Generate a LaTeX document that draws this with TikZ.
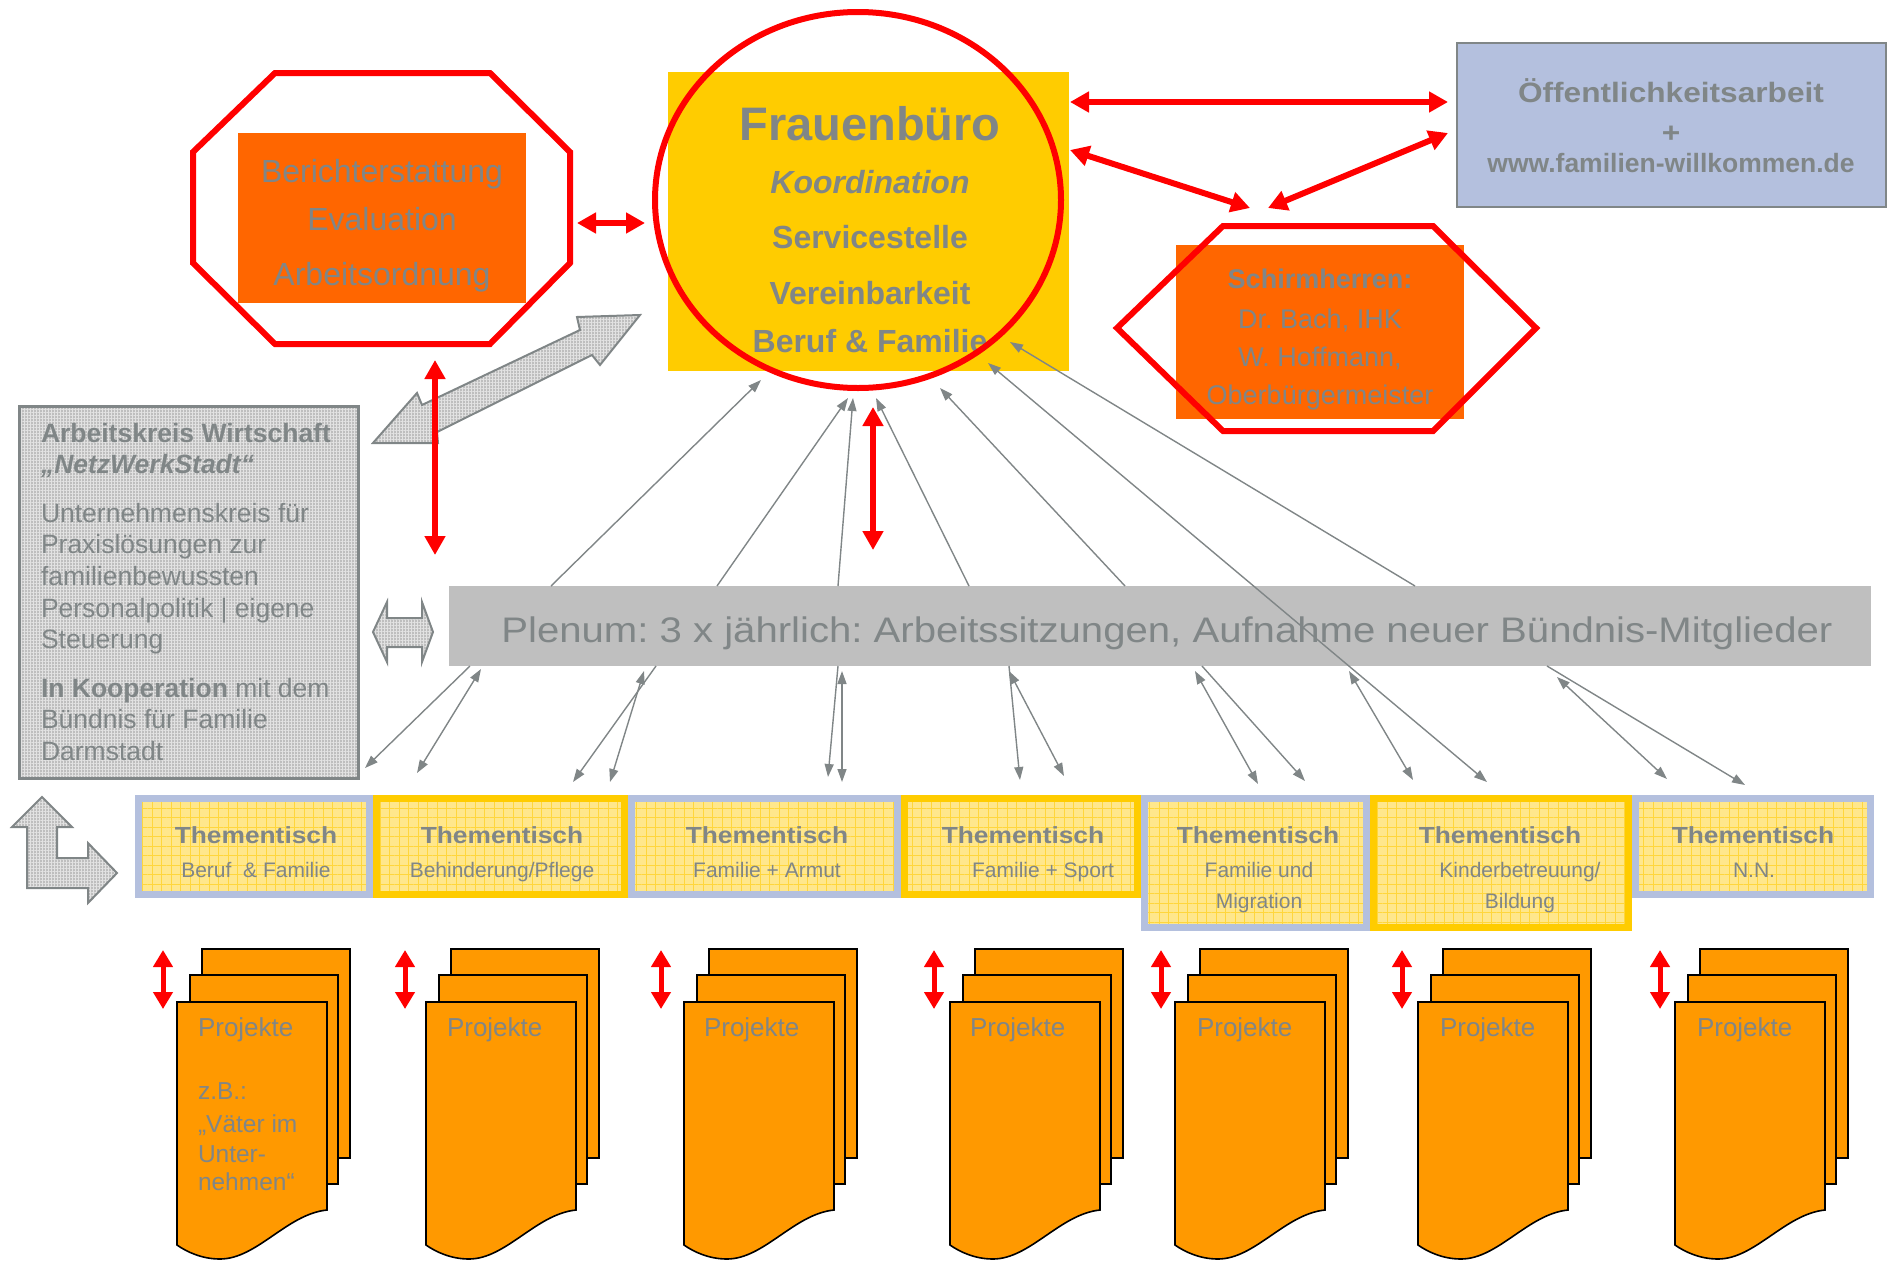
\documentclass[tikz,border=0pt]{standalone}
\usepackage{fontspec}
\setmainfont{Liberation Sans}
\newfontfamily\widefont{Liberation Sans}[FakeStretch=1.13]
\usetikzlibrary{arrows.meta,patterns.meta}
\frenchspacing

\definecolor{txtgrey}{RGB}{128,134,135}
\definecolor{fbgelb}{RGB}{255,204,0}
\definecolor{boxorange}{RGB}{255,102,0}
\definecolor{blattorange}{RGB}{255,153,0}
\definecolor{tischblau}{RGB}{180,192,222}
\definecolor{tischgelb}{RGB}{255,231,140}
\definecolor{tischraster}{RGB}{255,214,60}
\definecolor{plenumgrau}{RGB}{191,191,191}
\definecolor{rastergrau}{RGB}{190,190,190}
\definecolor{rasterhell}{RGB}{226,226,226}

\newcommand{\groesse}[1]{\fontsize{#1}{#1}\selectfont}

\tikzset{
    every node/.style={inner sep=0pt, outer sep=0pt},
    txt/.style={text=txtgrey, anchor=base},
    berline/.style={txt, font=\groesse{32}},
    fbtitle/.style={txt, font=\bfseries\groesse{47}},
    fbline/.style={txt, font=\bfseries\groesse{32}},
    oeline/.style={txt, font=\widefont\bfseries\groesse{28}},
    wwwline/.style={txt, font=\bfseries\groesse{26.5}},
    schline/.style={txt, font=\groesse{27}},
    akline/.style={txt, anchor=base west, font=\groesse{26.5}},
    plline/.style={txt, font=\widefont\groesse{35.5}},
    tischtitle/.style={txt, font=\widefont\bfseries\groesse{23.3}},
    tischsub/.style={txt, font=\groesse{21}},
    projline/.style={txt, anchor=base west, font=\groesse{26}},
    projsmall/.style={txt, anchor=base west, font=\groesse{24.5}},
    orangebox/.style={fill=boxorange},
    raster/.style={preaction={fill=rastergrau},
        pattern={Hatch[distance=3pt,angle=0,line width=.8pt]}, pattern color=rasterhell},
    akbox/.style={draw=txtgrey, line width=3, raster},
    blockarrow/.style={draw=txtgrey, line width=2, line join=miter, raster},
    tisch/.style={draw=#1, line width=7, preaction={fill=tischgelb},
        pattern={Hatch[distance=9.5pt,angle=0,line width=.8pt]}, pattern color=tischraster},
    blatt/.style={draw=black, line width=1.6, fill=blattorange, line join=miter},
    redring/.style={draw=red, line width=6, line join=miter},
    redarrow/.style={draw=red, line width=6,
        {Triangle[length=19pt,width=20pt]}-{Triangle[length=19pt,width=20pt]}},
    smallred/.style={draw=red, line width=5,
        {Triangle[length=17pt,width=19pt]}-{Triangle[length=17pt,width=19pt]}},
    thinpfeil/.style={draw=txtgrey, line width=1.4, -{Triangle[length=13pt,width=9pt]}},
    thinboth/.style={draw=txtgrey, line width=1.4,
        {Triangle[length=13pt,width=9pt]}-{Triangle[length=13pt,width=9pt]}}
}

\begin{document}
\begin{tikzpicture}[x=1pt, y=-1pt]
	\useasboundingbox (0,0) rectangle (1888,1264);

	% Berichterstattung
	\draw[redring] (275,73) -- (490,73) -- (570,152) -- (570,263) -- (490,344)
		-- (275,344) -- (193,263) -- (193,152) -- cycle;
	\node (bericht) [orangebox, minimum width=288, minimum height=170] at (382,218) {};
	\node (ber1) [berline] at (382,182) {Berichterstattung};
	\node (ber2) [berline] at (382,230) {Evaluation};
	\node (ber3) [berline] at (382,285) {Arbeitsordnung};

	% Frauenbuero
	\node (buero) [fill=fbgelb, minimum width=401, minimum height=299] at (868.5,221.5) {};
	\node (fb1) [fbtitle] at (870,140) {Frauenbüro};
	\node (fb2) [fbline, font=\bfseries\itshape\groesse{32}] at (870,193) {Koordination};
	\node (fb3) [fbline] at (870,248) {Servicestelle};
	\node (fb4) [fbline] at (870,304) {Vereinbarkeit};
	\node (fb5) [fbline] at (870,352) {Beruf \& Familie};
	\draw[redring] (858,200) ellipse [x radius=203, y radius=188];

	% Oeffentlichkeitsarbeit
	\node (oeff) [draw=txtgrey, line width=2.5, fill=tischblau, minimum width=429,
		minimum height=164] at (1671.5,125) {};
	\node (oe1) [oeline] at (1671,102) {Öffentlichkeitsarbeit};
	\node (oe2) [oeline] at (1671,142) {+};
	\node (oe3) [wwwline] at (1671,172) {www.familien-willkommen.de};

	% Schirmherren
	\node (schirm) [orangebox, minimum width=288, minimum height=174] at (1320,332) {};
	\node (sh1) [schline, font=\bfseries\groesse{27}] at (1320,288) {Schirmherren:};
	\node (sh2) [schline] at (1320,328) {Dr. Bach, IHK};
	\node (sh3) [schline] at (1320,366) {W. Hoffmann,};
	\node (sh4) [schline] at (1320,404) {Oberbürgermeister};
	\draw[redring] (1223,226) -- (1433,226) -- (1536,328) -- (1433,431) -- (1223,431)
		-- (1117,328) -- cycle;

	% Arbeitskreis
	\node (ak) [akbox, minimum width=339, minimum height=372] at (189,592.5) {};
	\node (ak1) [akline, font=\bfseries\groesse{26.5}] at (41,442) {Arbeitskreis Wirtschaft};
	\node (ak2) [akline, font=\bfseries\itshape\groesse{26.5}] at (41,473) {„NetzWerkStadt“};
	\node (ak3) [akline] at (41,522) {Unternehmenskreis für};
	\node (ak4) [akline] at (41,553) {Praxislösungen zur};
	\node (ak5) [akline] at (41,585) {familienbewussten};
	\node (ak6) [akline] at (41,617) {Personalpolitik | eigene};
	\node (ak7) [akline] at (41,648) {Steuerung};
	\node (ak8) [akline] at (41,697) {{\bfseries In Kooperation} mit dem};
	\node (ak9) [akline] at (41,728) {Bündnis für Familie};
	\node (ak10) [akline] at (41,760) {Darmstadt};

	% grey block arrows
	\draw[blockarrow] (373,443) -- (417,393) -- (422,405) -- (580,330) -- (577,317)
		-- (640,315) -- (600,365) -- (592,355) -- (437,432) -- (438,443) -- cycle;
	\draw[blockarrow] (373,632) -- (387,602) -- (387,618) -- (422,618) -- (422,602)
		-- (433,632) -- (422,662) -- (422,647) -- (387,647) -- (387,662) -- cycle;
	\draw[blockarrow] (42,797) -- (72,827) -- (57,827) -- (57,858) -- (88,858) -- (88,843)
		-- (117,873) -- (88,903) -- (88,888) -- (27,888) -- (27,827) -- (12,827) -- cycle;

	% Plenum
	\node (plenum) [fill=plenumgrau, minimum width=1422, minimum height=80] at (1160,626) {};
	\node (pl) [plline] at (1167,642) {Plenum: 3 x jährlich: Arbeitssitzungen, Aufnahme neuer Bündnis-Mitglieder};

	% Thementische
	\node (t1) [tisch=tischblau, minimum width=231, minimum height=96] at (254,846.5) {};
	\node (t3) [tisch=tischblau, minimum width=266, minimum height=96] at (764.5,846.5) {};
	\node (t5) [tisch=tischblau, minimum width=222, minimum height=129] at (1255.5,863) {};
	\node (t7) [tisch=tischblau, minimum width=235, minimum height=96] at (1753,846.5) {};
	\node (t2) [tisch=fbgelb, minimum width=248, minimum height=96] at (500.5,846.5) {};
	\node (t4) [tisch=fbgelb, minimum width=233, minimum height=96] at (1021,846.5) {};
	\node (t6) [tisch=fbgelb, minimum width=255, minimum height=129] at (1501,863) {};

	\node (tt1) [tischtitle] at (256,843) {Thementisch};
	\node (tt2) [tischtitle] at (502,843) {Thementisch};
	\node (tt3) [tischtitle] at (767,843) {Thementisch};
	\node (tt4) [tischtitle] at (1023,843) {Thementisch};
	\node (tt5) [tischtitle] at (1258,843) {Thementisch};
	\node (tt6) [tischtitle] at (1500,843) {Thementisch};
	\node (tt7) [tischtitle] at (1753,843) {Thementisch};
	\node (ts1) [tischsub] at (256,877) {Beruf~~\& Familie};
	\node (ts2) [tischsub] at (502,877) {Behinderung/Pflege};
	\node (ts3) [tischsub] at (767,877) {Familie + Armut};
	\node (ts4) [tischsub] at (1043,877) {Familie + Sport};
	\node (ts5) [tischsub] at (1259,877) {Familie und};
	\node (ts5b) [tischsub] at (1259,908) {Migration};
	\node (ts6) [tischsub] at (1520,877) {Kinderbetreuung/};
	\node (ts6b) [tischsub] at (1520,908) {Bildung};
	\node (ts7) [tischsub] at (1754,877) {N.N.};

	% Projekte
	\begin{scope}[xshift=177]
		\draw[blatt] (25,949) rectangle (173,1158);
		\draw[blatt] (13,975) rectangle (161,1184);
		\draw[blatt] (0,1002) -- (150,1002) -- (150,1210) .. controls (110,1214) and (80,1259) .. (43,1259)
			.. controls (25,1259) and (10,1252) .. (0,1245) -- cycle;
	\end{scope}
	\begin{scope}[xshift=426]
		\draw[blatt] (25,949) rectangle (173,1158);
		\draw[blatt] (13,975) rectangle (161,1184);
		\draw[blatt] (0,1002) -- (150,1002) -- (150,1210) .. controls (110,1214) and (80,1259) .. (43,1259)
			.. controls (25,1259) and (10,1252) .. (0,1245) -- cycle;
	\end{scope}
	\begin{scope}[xshift=684]
		\draw[blatt] (25,949) rectangle (173,1158);
		\draw[blatt] (13,975) rectangle (161,1184);
		\draw[blatt] (0,1002) -- (150,1002) -- (150,1210) .. controls (110,1214) and (80,1259) .. (43,1259)
			.. controls (25,1259) and (10,1252) .. (0,1245) -- cycle;
	\end{scope}
	\begin{scope}[xshift=950]
		\draw[blatt] (25,949) rectangle (173,1158);
		\draw[blatt] (13,975) rectangle (161,1184);
		\draw[blatt] (0,1002) -- (150,1002) -- (150,1210) .. controls (110,1214) and (80,1259) .. (43,1259)
			.. controls (25,1259) and (10,1252) .. (0,1245) -- cycle;
	\end{scope}
	\begin{scope}[xshift=1175]
		\draw[blatt] (25,949) rectangle (173,1158);
		\draw[blatt] (13,975) rectangle (161,1184);
		\draw[blatt] (0,1002) -- (150,1002) -- (150,1210) .. controls (110,1214) and (80,1259) .. (43,1259)
			.. controls (25,1259) and (10,1252) .. (0,1245) -- cycle;
	\end{scope}
	\begin{scope}[xshift=1418]
		\draw[blatt] (25,949) rectangle (173,1158);
		\draw[blatt] (13,975) rectangle (161,1184);
		\draw[blatt] (0,1002) -- (150,1002) -- (150,1210) .. controls (110,1214) and (80,1259) .. (43,1259)
			.. controls (25,1259) and (10,1252) .. (0,1245) -- cycle;
	\end{scope}
	\begin{scope}[xshift=1675]
		\draw[blatt] (25,949) rectangle (173,1158);
		\draw[blatt] (13,975) rectangle (161,1184);
		\draw[blatt] (0,1002) -- (150,1002) -- (150,1210) .. controls (110,1214) and (80,1259) .. (43,1259)
			.. controls (25,1259) and (10,1252) .. (0,1245) -- cycle;
	\end{scope}

	\node (pr1) [projline] at (198,1036) {Projekte};
	\node (pr1b) [projsmall] at (198,1099) {z.B.:};
	\node (pr1c) [projsmall] at (198,1132) {„Väter im};
	\node (pr1d) [projsmall] at (198,1162) {Unter-};
	\node (pr1e) [projsmall] at (198,1190) {nehmen“};
	\node (pr2) [projline] at (447,1036) {Projekte};
	\node (pr3) [projline] at (704,1036) {Projekte};
	\node (pr4) [projline] at (970,1036) {Projekte};
	\node (pr5) [projline] at (1197,1036) {Projekte};
	\node (pr6) [projline] at (1440,1036) {Projekte};
	\node (pr7) [projline] at (1697,1036) {Projekte};

	% red connectors
	\coordinate (r1a) at (577,223);   \coordinate (r1b) at (645,223);
	\coordinate (r2a) at (1070,102);  \coordinate (r2b) at (1448,102);
	\coordinate (r3a) at (1070,150);  \coordinate (r3b) at (1250,208);
	\coordinate (r4a) at (1448,133);  \coordinate (r4b) at (1268,208);
	\coordinate (r5a) at (435,360);   \coordinate (r5b) at (435,555);
	\coordinate (r6a) at (873,407);   \coordinate (r6b) at (873,550);
	\draw[redarrow] (r1a) -- (r1b);
	\draw[redarrow] (r2a) -- (r2b);
	\draw[redarrow] (r3a) -- (r3b);
	\draw[redarrow] (r4a) -- (r4b);
	\draw[redarrow] (r5a) -- (r5b);
	\draw[redarrow] (r6a) -- (r6b);

	\coordinate (p1a) at (163,950);  \coordinate (p1b) at (163,1009);
	\coordinate (p2a) at (405,950);  \coordinate (p2b) at (405,1009);
	\coordinate (p3a) at (661,950);  \coordinate (p3b) at (661,1009);
	\coordinate (p4a) at (934,950);  \coordinate (p4b) at (934,1009);
	\coordinate (p5a) at (1161,950); \coordinate (p5b) at (1161,1009);
	\coordinate (p6a) at (1402,950); \coordinate (p6b) at (1402,1009);
	\coordinate (p7a) at (1660,950); \coordinate (p7b) at (1660,1009);
	\draw[smallred] (p1a) -- (p1b); \draw[smallred] (p2a) -- (p2b);
	\draw[smallred] (p3a) -- (p3b); \draw[smallred] (p4a) -- (p4b);
	\draw[smallred] (p5a) -- (p5b); \draw[smallred] (p6a) -- (p6b);
	\draw[smallred] (p7a) -- (p7b);

	% grey connectors plenum -> Frauenbuero
	\coordinate (u1a) at (551,586);   \coordinate (u1b) at (761,380);
	\coordinate (u2a) at (717,586);   \coordinate (u2b) at (848,398);
	\coordinate (u3a) at (838,586);   \coordinate (u3b) at (853,398);
	\coordinate (u4a) at (969,586);   \coordinate (u4b) at (876,398);
	\coordinate (u5a) at (1125,586);  \coordinate (u5b) at (940,388);
	\coordinate (u6a) at (1487,782);  \coordinate (u6b) at (988,363);
	\coordinate (u7a) at (1415,586);  \coordinate (u7b) at (1010,342);
	\draw[thinpfeil] (u1a) -- (u1b); \draw[thinpfeil] (u2a) -- (u2b);
	\draw[thinpfeil] (u3a) -- (u3b); \draw[thinpfeil] (u4a) -- (u4b);
	\draw[thinpfeil] (u5a) -- (u5b); \draw[thinboth] (u6a) -- (u6b);
	\draw[thinpfeil] (u7a) -- (u7b);

	% grey connectors plenum <-> Thementische
	\coordinate (d1a) at (470,666);   \coordinate (d1b) at (365,768);
	\coordinate (d1c) at (481,669);   \coordinate (d1d) at (417,773);
	\coordinate (d2a) at (656,666);   \coordinate (d2b) at (573,782);
	\coordinate (d2c) at (644,671);   \coordinate (d2d) at (610,782);
	\coordinate (d3a) at (838,666);   \coordinate (d3b) at (828,777);
	\coordinate (d3c) at (842,671);   \coordinate (d3d) at (842,782);
	\coordinate (d4a) at (1009,666);  \coordinate (d4b) at (1020,780);
	\coordinate (d4c) at (1009,671);  \coordinate (d4d) at (1064,776);
	\coordinate (d5a) at (1202,666);  \coordinate (d5b) at (1305,781);
	\coordinate (d5c) at (1195,671);  \coordinate (d5d) at (1258,784);
	\coordinate (d6c) at (1349,671);  \coordinate (d6d) at (1413,780);
	\coordinate (d7a) at (1547,666);  \coordinate (d7b) at (1745,785);
	\coordinate (d7c) at (1557,677);  \coordinate (d7d) at (1667,779);
	\draw[thinpfeil] (d1a) -- (d1b); \draw[thinboth] (d1c) -- (d1d);
	\draw[thinpfeil] (d2a) -- (d2b); \draw[thinboth] (d2c) -- (d2d);
	\draw[thinpfeil] (d3a) -- (d3b); \draw[thinboth] (d3c) -- (d3d);
	\draw[thinpfeil] (d4a) -- (d4b); \draw[thinboth] (d4c) -- (d4d);
	\draw[thinpfeil] (d5a) -- (d5b); \draw[thinboth] (d5c) -- (d5d);
	\draw[thinboth] (d6c) -- (d6d);
	\draw[thinpfeil] (d7a) -- (d7b); \draw[thinboth] (d7c) -- (d7d);
\end{tikzpicture}
\end{document}
